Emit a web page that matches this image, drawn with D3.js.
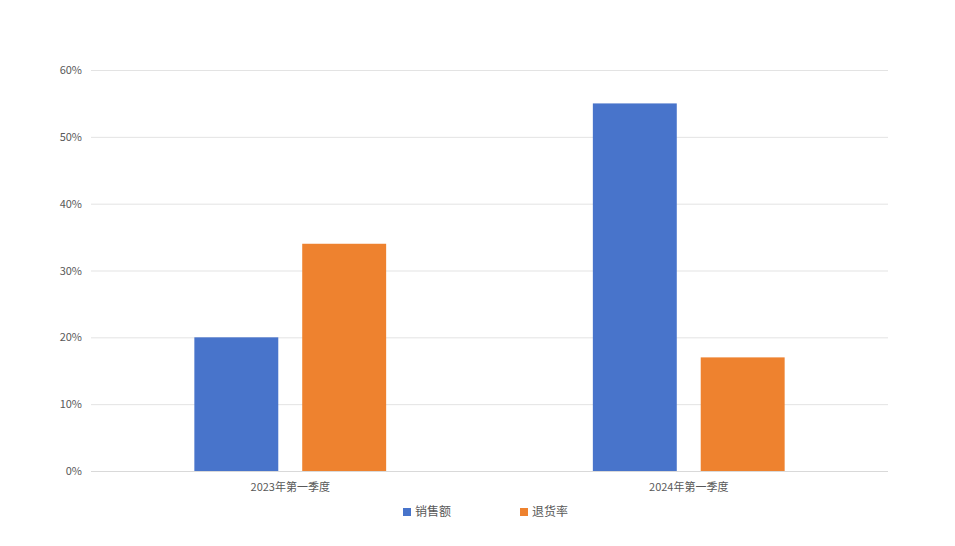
<!DOCTYPE html>
<html><head><meta charset="utf-8">
<script src="https://cdn.jsdelivr.net/npm/d3@7"></script>
<style>body{margin:0;background:#fff}text{font-family:"Noto Sans CJK SC","Noto Sans",sans-serif;}</style>
</head><body><svg id="c" width="955" height="546"></svg>
<script>
const categories = ["2023年第一季度", "2024年第一季度"];
const seriesNames = ["销售额", "退货率"];
const sales = [0.20, 0.55];
const returns = [0.34, 0.17];
const yTicks = [0, 0.1, 0.2, 0.3, 0.4, 0.5, 0.6];
const colors = ["#4874CB", "#EE822F"];

const svg = d3.select("#c");
const L = 91, R = 888, T = 70, B = 471;
const y = d3.scaleLinear().domain([0, 0.6]).range([B, T]);
const x0 = d3.scaleBand().domain(categories).range([L, R]).padding(0);
const x1 = d3.scaleBand().domain(seriesNames).range([0, x0.bandwidth()]).paddingInner(0.222).paddingOuter(0.958);

const grid = svg.append("g");
grid.selectAll("line").data(yTicks.filter(d => d > 0)).join("line")
  .attr("x1", L).attr("x2", R).attr("y1", d => y(d) + 0.5).attr("y2", d => y(d) + 0.5)
  .attr("stroke", "#e3e3e3").attr("stroke-width", 1);

const yAxis = d3.axisLeft(y).tickValues(yTicks).tickFormat(d3.format(".0%")).tickSize(0).tickPadding(9);
const ya = svg.append("g").attr("transform", `translate(${L},0)`).call(yAxis);
ya.select(".domain").remove();
ya.selectAll("text").attr("fill", "#595959").style("font-size", "11px");

const data = categories.map((c, i) => ({c, vals: [sales[i], returns[i]]}));
const groups = svg.append("g").selectAll("g").data(data).join("g")
  .attr("transform", d => `translate(${x0(d.c)},0)`);
groups.selectAll("rect").data(d => d.vals.map((v, j) => ({s: seriesNames[j], v, j}))).join("rect")
  .attr("x", d => x1(d.s)).attr("width", x1.bandwidth())
  .attr("y", d => y(d.v)).attr("height", d => y(0) - y(d.v))
  .attr("fill", d => colors[d.j]);

svg.append("line").attr("x1", L).attr("x2", R).attr("y1", B + 0.5).attr("y2", B + 0.5)
  .attr("stroke", "#d9d9d9").attr("stroke-width", 1);

const xAxis = d3.axisBottom(x0).tickSize(0).tickPadding(12);
const xa = svg.append("g").attr("transform", `translate(0,${B})`).call(xAxis);
xa.select(".domain").remove();
xa.selectAll("text").attr("fill", "#595959").style("font-size", "11px");

const legX = [403, 520];
const leg = svg.append("g").selectAll("g").data(seriesNames).join("g")
  .attr("transform", (d, i) => `translate(${legX[i]},512)`);
leg.append("rect").attr("x", 0).attr("y", -4).attr("width", 8).attr("height", 8).attr("fill", (d, i) => colors[i]);
leg.append("text").attr("x", 12).attr("y", 0).attr("dy", "0.35em").text(d => d)
  .attr("fill", "#595959").style("font-size", "12px");
</script></body></html>
